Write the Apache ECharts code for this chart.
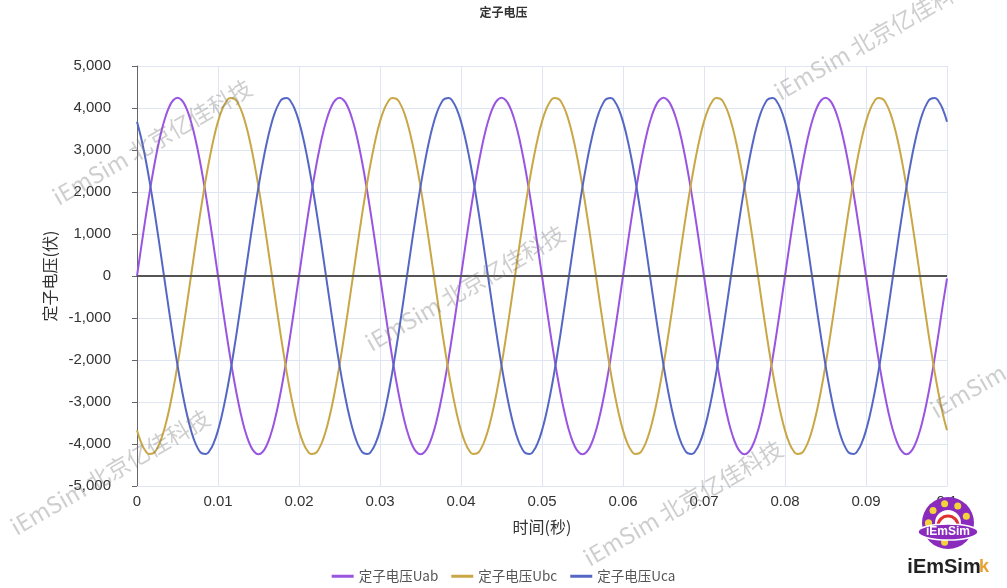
<!DOCTYPE html>
<html>
<head>
<meta charset="utf-8">
<script src="https://cdn.jsdelivr.net/npm/echarts@6/dist/echarts.min.js"></script>
<style>html,body{margin:0;padding:0;background:#fff}#c{width:1007px;height:588px}</style>
</head>
<body>
<div id="c"></div>
<script>
var titleText = '定子电压';
var xName = '时间(秒)';
var yName = '定子电压(伏)';
var seriesNames = ['定子电压Uab', '定子电压Ubc', '定子电压Uca'];
var watermarkText = 'iEmSim 北京亿佳科技';

var times = [0,0.0005,0.001,0.0015,0.002,0.0025,0.003,0.0035,0.004,0.0045,
0.005,0.0055,0.006,0.0065,0.007,0.0075,0.008,0.0085,0.009,0.0095,
0.010,0.0105,0.011,0.0115,0.012,0.0125,0.013,0.0135,0.014,0.0145,
0.015,0.0155,0.016,0.0165,0.017,0.0175,0.018,0.0185,0.019,0.0195,
0.020,0.0205,0.021,0.0215,0.022,0.0225,0.023,0.0235,0.024,0.0245,
0.025,0.0255,0.026,0.0265,0.027,0.0275,0.028,0.0285,0.029,0.0295,
0.030,0.0305,0.031,0.0315,0.032,0.0325,0.033,0.0335,0.034,0.0345,
0.035,0.0355,0.036,0.0365,0.037,0.0375,0.038,0.0385,0.039,0.0395,
0.040,0.0405,0.041,0.0415,0.042,0.0425,0.043,0.0435,0.044,0.0445,
0.045,0.0455,0.046,0.0465,0.047,0.0475,0.048,0.0485,0.049,0.0495,
0.050,0.0505,0.051,0.0515,0.052,0.0525,0.053,0.0535,0.054,0.0545,
0.055,0.0555,0.056,0.0565,0.057,0.0575,0.058,0.0585,0.059,0.0595,
0.060,0.0605,0.061,0.0615,0.062,0.0625,0.063,0.0635,0.064,0.0645,
0.065,0.0655,0.066,0.0665,0.067,0.0675,0.068,0.0685,0.069,0.0695,
0.070,0.0705,0.071,0.0715,0.072,0.0725,0.073,0.0735,0.074,0.0745,
0.075,0.0755,0.076,0.0765,0.077,0.0775,0.078,0.0785,0.079,0.0795,
0.080,0.0805,0.081,0.0815,0.082,0.0825,0.083,0.0835,0.084,0.0845,
0.085,0.0855,0.086,0.0865,0.087,0.0875,0.088,0.0885,0.089,0.0895,
0.090,0.0905,0.091,0.0915,0.092,0.0925,0.093,0.0935,0.094,0.0945,
0.095,0.0955,0.096,0.0965,0.097,0.0975,0.098,0.0985,0.099,0.0995,0.100];

var uab = [
0,664,1311,1926,2494,3000,3433,3781,4035,4191,4243,4191,4035,3781,3433,3000,2494,1926,1311,664,0,-664,-1311,-1926,-2494,-3000,-3433,-3781,-4035,-4191,-4243,-4191,-4035,-3781,-3433,-3000,-2494,-1926,-1311,-664,
0,664,1311,1926,2494,3000,3433,3781,4035,4191,4243,4191,4035,3781,3433,3000,2494,1926,1311,664,0,-664,-1311,-1926,-2494,-3000,-3433,-3781,-4035,-4191,-4243,-4191,-4035,-3781,-3433,-3000,-2494,-1926,-1311,-664,
0,664,1311,1926,2494,3000,3433,3781,4035,4191,4243,4191,4035,3781,3433,3000,2494,1926,1311,664,0,-664,-1311,-1926,-2494,-3000,-3433,-3781,-4035,-4191,-4243,-4191,-4035,-3781,-3433,-3000,-2494,-1926,-1311,-664,
0,664,1311,1926,2494,3000,3433,3781,4035,4191,4243,4191,4035,3781,3433,3000,2494,1926,1311,664,0,-664,-1311,-1926,-2494,-3000,-3433,-3781,-4035,-4191,-4243,-4191,-4035,-3781,-3433,-3000,-2494,-1926,-1311,-664,
0,664,1311,1926,2494,3000,3433,3781,4035,4191,4243,4191,4035,3781,3433,3000,2494,1926,1311,664,0,-664,-1311,-1926,-2494,-3000,-3433,-3781,-4035,-4191,-4243,-4191,-4035,-3781,-3433,-3000,-2494,-1926,-1311,-664,
-60];

var ubc = [
-3675,-3961,-4150,-4237,-4220,-4098,-3876,-3558,-3153,-2670,-2122,-1521,-882,-222,444,1098,1726,2311,2839,3297,3675,3961,4150,4237,4220,4098,3876,3558,3153,2670,2122,1521,882,222,-444,-1098,-1726,-2311,-2839,-3297,
-3675,-3961,-4150,-4237,-4220,-4098,-3876,-3558,-3153,-2670,-2122,-1521,-882,-222,444,1098,1726,2311,2839,3297,3675,3961,4150,4237,4220,4098,3876,3558,3153,2670,2122,1521,882,222,-444,-1098,-1726,-2311,-2839,-3297,
-3675,-3961,-4150,-4237,-4220,-4098,-3876,-3558,-3153,-2670,-2122,-1521,-882,-222,444,1098,1726,2311,2839,3297,3675,3961,4150,4237,4220,4098,3876,3558,3153,2670,2122,1521,882,222,-444,-1098,-1726,-2311,-2839,-3297,
-3675,-3961,-4150,-4237,-4220,-4098,-3876,-3558,-3153,-2670,-2122,-1521,-882,-222,444,1098,1726,2311,2839,3297,3675,3961,4150,4237,4220,4098,3876,3558,3153,2670,2122,1521,882,222,-444,-1098,-1726,-2311,-2839,-3297,
-3675,-3961,-4150,-4237,-4220,-4098,-3876,-3558,-3153,-2670,-2122,-1521,-882,-222,444,1098,1726,2311,2839,3297,3675,3961,4150,4237,4220,4098,3876,3558,3153,2670,2122,1521,882,222,-444,-1098,-1726,-2311,-2839,-3297,
-3675];

var uca = [
3675,3297,2839,2311,1726,1098,444,-222,-882,-1521,-2122,-2670,-3153,-3558,-3876,-4098,-4220,-4237,-4150,-3961,-3675,-3297,-2839,-2311,-1726,-1098,-444,222,882,1521,2122,2670,3153,3558,3876,4098,4220,4237,4150,3961,
3675,3297,2839,2311,1726,1098,444,-222,-882,-1521,-2122,-2670,-3153,-3558,-3876,-4098,-4220,-4237,-4150,-3961,-3675,-3297,-2839,-2311,-1726,-1098,-444,222,882,1521,2122,2670,3153,3558,3876,4098,4220,4237,4150,3961,
3675,3297,2839,2311,1726,1098,444,-222,-882,-1521,-2122,-2670,-3153,-3558,-3876,-4098,-4220,-4237,-4150,-3961,-3675,-3297,-2839,-2311,-1726,-1098,-444,222,882,1521,2122,2670,3153,3558,3876,4098,4220,4237,4150,3961,
3675,3297,2839,2311,1726,1098,444,-222,-882,-1521,-2122,-2670,-3153,-3558,-3876,-4098,-4220,-4237,-4150,-3961,-3675,-3297,-2839,-2311,-1726,-1098,-444,222,882,1521,2122,2670,3153,3558,3876,4098,4220,4237,4150,3961,
3675,3297,2839,2311,1726,1098,444,-222,-882,-1521,-2122,-2670,-3153,-3558,-3876,-4098,-4220,-4237,-4150,-3961,-3675,-3297,-2839,-2311,-1726,-1098,-444,222,882,1521,2122,2670,3153,3558,3876,4098,4220,4237,4150,3961,
3675];

var colors = ['#9A55E0', '#C9A646', '#5567C4'];
var FONT = '"Liberation Sans", Arial, "Noto Sans CJK SC", sans-serif';
var CJK = '"Noto Sans CJK SC", sans-serif';

function pairs(vals) { return times.map(function (t, i) { return [t, vals[i]]; }); }

var wmPos = [[152,142],[465,288],[110,472],[683,503],[874,37],[1030,355]];
var graphics = wmPos.map(function (p) {
  return {
    type: 'text', x: p[0], y: p[1], rotation: Math.PI / 6, z: 100, silent: true,
    style: { text: watermarkText, fill: 'rgba(120,120,120,0.36)', font: '23px ' + CJK, align: 'center', verticalAlign: 'middle' }
  };
});
// logo approximation
var lc = [948, 523];
var logo = [
  { type: 'circle', shape: { cx: lc[0], cy: lc[1], r: 26 }, style: { fill: '#8A2BBE' }, z: 110 },
  { type: 'circle', shape: { cx: lc[0], cy: lc[1], r: 13 }, style: { fill: '#fff' }, z: 111 },
  { type: 'arc', shape: { cx: lc[0], cy: lc[1] + 3, r: 10, startAngle: Math.PI, endAngle: 2 * Math.PI }, style: { stroke: '#E03030', lineWidth: 3, fill: null }, z: 112 },
  { type: 'ellipse', shape: { cx: lc[0], cy: lc[1] + 9, rx: 30, ry: 8 }, style: { fill: '#8A2BBE', stroke: '#fff', lineWidth: 1.5 }, z: 113 },
  { type: 'text', x: lc[0], y: lc[1] + 9, z: 114, style: { text: 'iEmSim', fill: '#fff', font: 'bold 12px "Liberation Sans", sans-serif', align: 'center', verticalAlign: 'middle' } },
  { type: 'text', x: lc[0] - 4, y: lc[1] + 44, z: 114, style: { text: 'iEmSim', fill: '#222', font: 'bold 20px "Liberation Sans", sans-serif', align: 'center', verticalAlign: 'middle' } },
  { type: 'text', x: lc[0] + 36, y: lc[1] + 44, z: 114, style: { text: 'k', fill: '#E8A030', font: 'bold 18px "Liberation Sans", sans-serif', align: 'center', verticalAlign: 'middle' } }
];
[0,1,2,3,4,5,6,7,8,9].forEach(function (i) {
  var a = -Math.PI + i * Math.PI / 9 * 2;
  if (Math.sin(a) > 0.35 && Math.sin(a) < 0.95) return;
  logo.push({ type: 'circle', shape: { cx: lc[0] + 19.5 * Math.cos(a), cy: lc[1] + 19.5 * Math.sin(a), r: 3.5 }, style: { fill: '#F2D43A' }, z: 112 });
});

var chart = echarts.init(document.getElementById('c'), null, { renderer: 'canvas' });
chart.setOption({
  animation: false,
  color: colors,
  textStyle: { fontFamily: FONT },
  title: { text: titleText, left: 'center', top: 1, textStyle: { fontSize: 12, fontWeight: 'bold', color: '#333', fontFamily: CJK } },
  legend: {
    bottom: 0, left: 'center', icon: 'rect', itemWidth: 22, itemHeight: 3, itemGap: 13,
    textStyle: { fontSize: 13.5, color: '#555', fontFamily: CJK },
    data: seriesNames
  },
  grid: { left: 137, right: 60, top: 66, bottom: 102, containLabel: false },
  xAxis: {
    type: 'value', min: 0, max: 0.1, interval: 0.01,
    name: xName, nameLocation: 'middle', nameGap: 33,
    nameTextStyle: { fontSize: 16, color: '#333', fontFamily: CJK },
    axisLine: { show: true, onZero: false, lineStyle: { color: '#E0E6F1' } },
    axisTick: { show: false },
    axisLabel: { fontSize: 15, color: '#333', margin: 8 },
    splitLine: { show: true, lineStyle: { color: '#E0E6F1' } }
  },
  yAxis: {
    type: 'value', min: -5000, max: 5000, interval: 1000,
    name: yName, nameLocation: 'middle', nameGap: 74,
    nameTextStyle: { fontSize: 16, color: '#333', fontFamily: CJK },
    axisLine: { show: true, lineStyle: { color: '#666' } },
    axisTick: { show: true, length: 5, lineStyle: { color: '#666' } },
    axisLabel: { fontSize: 15, color: '#333', margin: 26 },
    splitLine: { show: true, lineStyle: { color: '#E0E6F1' } }
  },
  series: [
    { name: seriesNames[0], type: 'line', data: pairs(uab), smooth: true, showSymbol: false, lineStyle: { width: 2 },
      markLine: { silent: true, symbol: ['none', 'none'], label: { show: false }, lineStyle: { color: '#555', type: 'solid', width: 2 }, data: [{ yAxis: 0 }] } },
    { name: seriesNames[1], type: 'line', data: pairs(ubc), smooth: true, showSymbol: false, lineStyle: { width: 2 } },
    { name: seriesNames[2], type: 'line', data: pairs(uca), smooth: true, showSymbol: false, lineStyle: { width: 2 } }
  ],
  graphic: graphics.concat(logo)
});
</script>
</body>
</html>
